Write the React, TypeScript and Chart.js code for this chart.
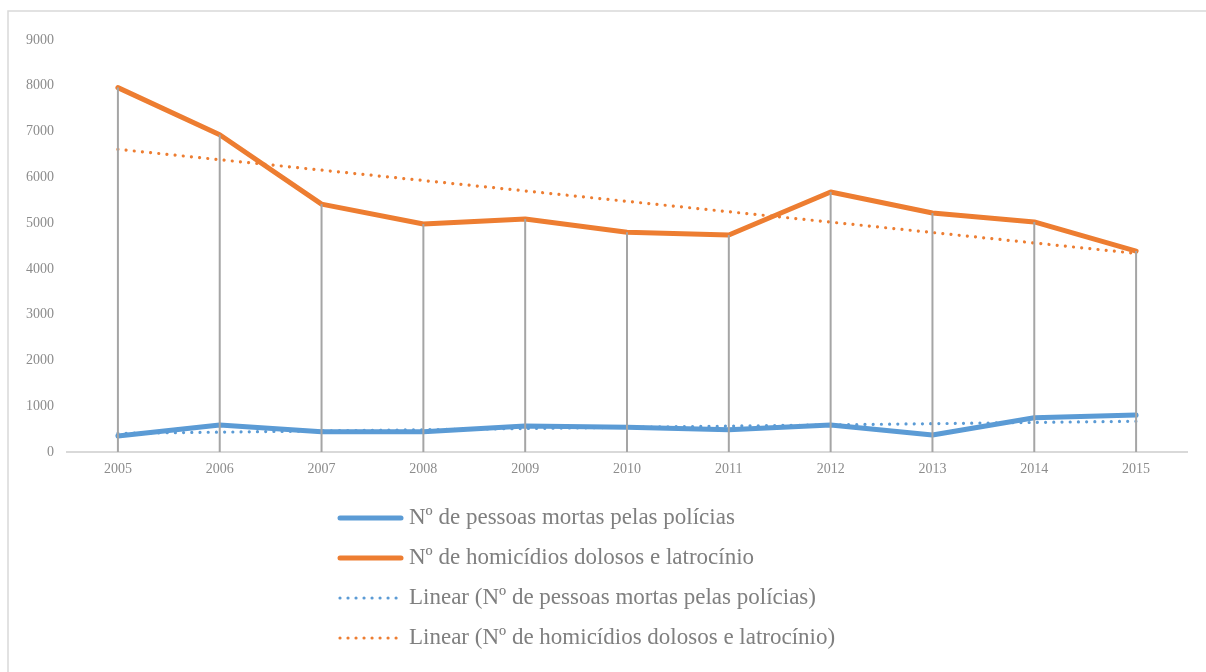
import React, { useEffect, useRef } from "react";
import { Chart, registerables } from "chart.js";

Chart.register(...registerables);

const years = ["2005", "2006", "2007", "2008", "2009", "2010", "2011", "2012", "2013", "2014", "2015"];
const policeKillings = [350, 590, 444, 444, 568, 539, 485, 590, 371, 750, 808];
const homicides = [7960, 6930, 5415, 4980, 5090, 4800, 4740, 5680, 5220, 5025, 4390];
const policeTrend = [407, 434, 460, 487, 513, 540, 566, 593, 619, 646, 672];
const homicideTrend = [6612, 6385, 6157, 5930, 5703, 5475, 5248, 5021, 4794, 4566, 4339];
const seriesLabels = [
  "Nº de pessoas mortas pelas polícias",
  "Nº de homicídios dolosos e latrocínio",
  "Linear (Nº de pessoas mortas pelas polícias)",
  "Linear (Nº de homicídios dolosos e latrocínio)",
];
const yMax = 9000;
const yStep = 1000;

const BLUE = "#5b9bd5";
const ORANGE = "#ed7d31";
const DOT_DASH = [0.01, 8.2];

const framePlugin = {
  id: "frame",
  beforeDraw(chart: any) {
    const ctx = chart.ctx;
    ctx.save();
    ctx.fillStyle = "#ffffff";
    ctx.fillRect(0, 0, chart.width, chart.height);
    ctx.strokeStyle = "#d9d9d9";
    ctx.lineWidth = 1.5;
    ctx.beginPath();
    ctx.moveTo(8, chart.height + 5);
    ctx.lineTo(8, 11);
    ctx.lineTo(chart.width + 5, 11);
    ctx.stroke();
    ctx.restore();
  },
};

const dropLinesPlugin = {
  id: "dropLines",
  afterDatasetsDraw(chart: any) {
    const ctx = chart.ctx;
    const x = chart.scales.x;
    const y = chart.scales.y;
    ctx.save();
    ctx.strokeStyle = "#a5a5a5";
    ctx.lineWidth = 2;
    years.forEach((_, i) => {
      const top = Math.max(policeKillings[i], homicides[i]);
      const px = x.getPixelForValue(i);
      ctx.beginPath();
      ctx.moveTo(px, y.getPixelForValue(top));
      ctx.lineTo(px, y.getPixelForValue(0));
      ctx.stroke();
    });
    ctx.restore();
  },
};

const legendPlugin = {
  id: "columnLegend",
  afterDraw(chart: any) {
    const ctx = chart.ctx;
    const startX = 340;
    const endX = 401;
    const textX = 409;
    const firstY = 518;
    const rowGap = 40;
    chart.data.datasets.forEach((ds: any, i: number) => {
      const yy = firstY + i * rowGap;
      ctx.save();
      ctx.strokeStyle = ds.borderColor;
      ctx.lineCap = "round";
      const dotted = Array.isArray(ds.borderDash) && ds.borderDash.length > 0;
      ctx.lineWidth = dotted ? 3.2 : 5;
      ctx.setLineDash(dotted ? [0.01, 8] : []);
      ctx.beginPath();
      ctx.moveTo(startX, yy);
      ctx.lineTo(endX, yy);
      ctx.stroke();
      ctx.setLineDash([]);
      ctx.fillStyle = "#7f7f7f";
      ctx.font = "23px 'Liberation Serif'";
      ctx.textBaseline = "middle";
      ctx.textAlign = "left";
      ctx.fillText(ds.label, textX, yy);
      ctx.restore();
    });
  },
};

export default function App() {
  const ref = useRef<HTMLCanvasElement | null>(null);

  useEffect(() => {
    if (!ref.current) return;
    const chart = new Chart(ref.current, {
      type: "line",
      data: {
        labels: years,
        datasets: [
          {
            label: seriesLabels[0],
            data: policeKillings,
            borderColor: BLUE,
            backgroundColor: BLUE,
            borderWidth: 5,
            borderCapStyle: "round",
            borderJoinStyle: "round",
            pointRadius: 0,
            tension: 0,
            order: 3,
          },
          {
            label: seriesLabels[1],
            data: homicides,
            borderColor: ORANGE,
            backgroundColor: ORANGE,
            borderWidth: 5,
            borderCapStyle: "round",
            borderJoinStyle: "round",
            pointRadius: 0,
            tension: 0,
            order: 2,
          },
          {
            label: seriesLabels[2],
            data: policeTrend,
            borderColor: BLUE,
            backgroundColor: BLUE,
            borderWidth: 3.2,
            borderDash: DOT_DASH,
            borderCapStyle: "round",
            pointRadius: 0,
            tension: 0,
            order: 1,
          },
          {
            label: seriesLabels[3],
            data: homicideTrend,
            borderColor: ORANGE,
            backgroundColor: ORANGE,
            borderWidth: 3.2,
            borderDash: DOT_DASH,
            borderCapStyle: "round",
            pointRadius: 0,
            tension: 0,
            order: 0,
          },
        ],
      },
      options: {
        responsive: false,
        animation: false,
        devicePixelRatio: 1,
        layout: { padding: { left: 8, right: 19, top: 40, bottom: 190 } },
        plugins: {
          legend: { display: false },
          tooltip: { enabled: false },
        },
        scales: {
          x: {
            type: "category",
            offset: true,
            grid: { display: true, drawOnChartArea: false, drawTicks: false, offset: true },
            border: { display: true, color: "#d9d9d9", width: 2 },
            ticks: {
              color: "#8c8c8c",
              font: { family: "'Liberation Serif'", size: 14 },
              padding: 9,
              maxRotation: 0,
            },
            afterFit(scale: any) {
              scale.height = 30;
            },
          },
          y: {
            min: 0,
            max: yMax,
            grid: { display: false, drawTicks: false },
            border: { display: false },
            ticks: {
              stepSize: yStep,
              color: "#8c8c8c",
              font: { family: "'Liberation Serif'", size: 14 },
              padding: 13,
              callback: (v: any) => String(v),
            },
            afterFit(scale: any) {
              scale.width = 59;
            },
          },
        },
      },
      plugins: [framePlugin, dropLinesPlugin, legendPlugin],
    });
    return () => chart.destroy();
  }, []);

  return (
    <div style={{ position: "absolute", left: 0, top: 0, width: 1206, height: 672 }}>
      <canvas ref={ref} width={1206} height={672} style={{ display: "block" }} />
    </div>
  );
}
